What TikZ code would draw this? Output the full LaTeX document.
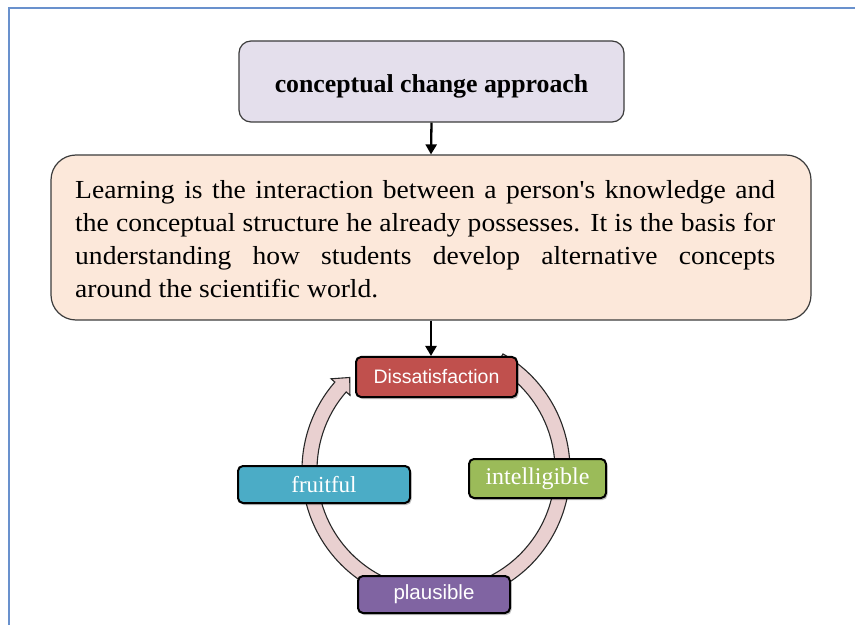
\documentclass[tikz,border=0pt]{standalone}
\usepackage{fontspec}
\setmainfont{Liberation Serif}
\newfontfamily\arialfont{Liberation Sans}
\newfontfamily\bodyfont[FakeStretch=1.06]{Liberation Serif}
\usetikzlibrary{arrows.meta,shadows}
\definecolor{frameblue}{RGB}{105,145,205}
\definecolor{lavfill}{RGB}{228,223,236}
\definecolor{peachfill}{RGB}{252,232,218}
\definecolor{boxline}{RGB}{60,60,60}
\definecolor{ringfill}{RGB}{233,208,208}
\definecolor{ringline}{RGB}{40,40,40}
\definecolor{disred}{RGB}{192,80,77}
\definecolor{intgreen}{RGB}{155,187,89}
\definecolor{fruitblue}{RGB}{75,172,198}
\definecolor{plauspurple}{RGB}{128,100,162}
\tikzset{
  bigbox/.style={draw=boxline, line width=1.2pt, inner sep=0pt},
  arr/.style={line width=2.3pt, -{Triangle[length=10pt,width=11pt]}},
  cyc/.style={draw=black, line width=2pt, rounded corners=5pt, text=white, inner sep=0pt,
    drop shadow={shadow xshift=1.5pt, shadow yshift=-2pt, opacity=0.25, fill=black}},
}
\begin{document}
\begin{tikzpicture}[x=1pt,y=1pt]
\useasboundingbox (0,0) rectangle (855,625);
\fill[white] (0,0) rectangle (855,625);
% frame
\draw[frameblue, line width=1.2pt] (9,0) -- (9,617) -- (855,617);

% title box
\node[bigbox, fill=lavfill, rounded corners=12pt, minimum width=385pt, minimum height=81pt,
      text height=23pt, text depth=0pt,
      font=\bfseries\fontsize{25.8}{30}\selectfont] (title) at (431.5,543.5) {conceptual change approach};

% panel box
\node[bigbox, fill=peachfill, rounded corners=25pt, minimum width=760pt, minimum height=165pt] (panel) at (431,387.5) {};
\node[anchor=north west, inner sep=0pt, align=left, font=\bodyfont\fontsize{26}{33}\selectfont] (paneltext) at (75,445)
{\makebox[700pt][s]{Learning is the interaction between a person's knowledge and}\\
 \makebox[700pt][s]{the conceptual structure he already possesses. It is the basis for}\\
 \makebox[700pt][s]{understanding how students develop alternative concepts}\\
 around the scientific world.};

% ring
\begin{scope}[shift={(436,155)}]
\filldraw[fill=ringfill, draw=ringline, line width=1.1pt]
  (60:134pt) arc[start angle=60, end angle=-221, radius=134pt]
  -- (-221:139pt) -- (-227:126.5pt) -- (-221:114pt) -- (-221:119pt)
  arc[start angle=-221, end angle=60, radius=119pt] -- cycle;
\end{scope}

% cycle nodes
\node[cyc, fill=disred, minimum width=161pt, minimum height=40pt, font=\arialfont\fontsize{19.5}{22}\selectfont] (dis) at (436.5,248) {Dissatisfaction};
\node[cyc, fill=intgreen, minimum width=137pt, minimum height=39pt, font=\fontsize{24}{28}\selectfont] (intel) at (537.5,146.5) {intelligible};
\node[cyc, fill=fruitblue, minimum width=172pt, minimum height=37pt, font=\fontsize{23}{27}\selectfont] (fruit) at (324,140.5) {fruitful};
\node[cyc, fill=plauspurple, minimum width=152pt, minimum height=37pt, font=\arialfont\fontsize{20.5}{24}\selectfont] (plaus) at (434,30.5) {plausible};

% arrows
\draw[arr] (title.south) -- (panel.north);
\draw[arr] (panel.south) -- (panel.south |- dis.north);
\end{tikzpicture}
\end{document}
